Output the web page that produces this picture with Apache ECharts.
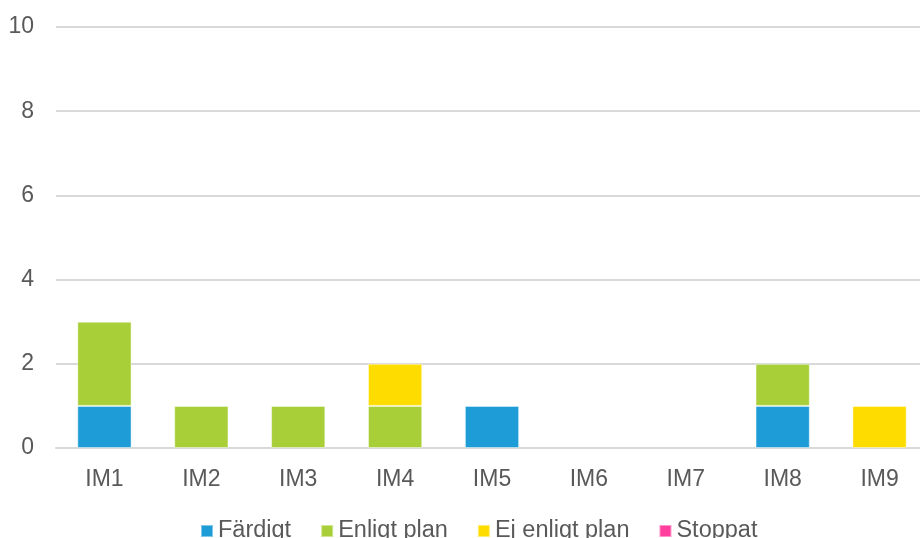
<!DOCTYPE html>
<html>
<head>
<meta charset="utf-8">
<script src="https://cdn.jsdelivr.net/npm/echarts@6/dist/echarts.min.js"></script>
<style>
  html, body { margin: 0; padding: 0; background: #fff; overflow: hidden; }
  #chart { width: 928px; height: 538px; }
</style>
</head>
<body>
<div id="chart"></div>
<script>
// Categories and stacked status counts
const categories = ['IM1', 'IM2', 'IM3', 'IM4', 'IM5', 'IM6', 'IM7', 'IM8', 'IM9'];
const fardigt = [1, 0, 0, 0, 1, 0, 0, 1, 0];
const enligtPlan = [2, 1, 1, 1, 0, 0, 0, 1, 0];
const ejEnligtPlan = [0, 0, 0, 1, 0, 0, 0, 0, 1];
const stoppat = [0, 0, 0, 0, 0, 0, 0, 0, 0];
const yTicks = [0, 2, 4, 6, 8, 10];

const seriesDefs = [
  { name: 'Färdigt', data: fardigt, color: '#1E9CD7' },
  { name: 'Enligt plan', data: enligtPlan, color: '#A8CF38' },
  { name: 'Ej enligt plan', data: ejEnligtPlan, color: '#FFDC00' },
  { name: 'Stoppat', data: stoppat, color: '#FF3E9E' }
];

const textColor = '#595959';
const fontFamily = '"Liberation Sans", Arial, sans-serif';

const chart = echarts.init(document.getElementById('chart'), null, { renderer: 'canvas' });
chart.setOption({
  animation: false,
  color: seriesDefs.map(s => s.color),
  grid: { left: 56, right: 0, top: 27, bottom: 90, containLabel: false },
  legend: {
    top: 519,
    left: 200,
    padding: 0,
    itemWidth: 12,
    itemHeight: 12,
    itemGap: 29,
    icon: 'rect',
    textStyle: { color: textColor, fontSize: 23.5, fontFamily: fontFamily, padding: [6, 0, 0, 0] },
    data: seriesDefs.map(s => s.name)
  },
  xAxis: {
    type: 'category',
    data: categories,
    axisLine: { show: true, lineStyle: { color: '#D9D9D9', width: 2 } },
    axisTick: { show: false },
    axisLabel: { color: textColor, fontSize: 23, fontFamily: fontFamily, margin: 20 }
  },
  yAxis: {
    type: 'value',
    min: yTicks[0],
    max: yTicks[yTicks.length - 1],
    interval: 2,
    axisLine: { show: false },
    axisTick: { show: false },
    splitLine: { lineStyle: { color: '#D9D9D9', width: 2 } },
    axisLabel: { color: textColor, fontSize: 23, fontFamily: fontFamily, margin: 22 }
  },
  series: seriesDefs.map(s => ({
    name: s.name,
    type: 'bar',
    stack: 'total',
    barWidth: '56%',
    itemStyle: { color: s.color, borderColor: 'rgba(255,255,255,0.45)', borderWidth: 1 },
    data: s.data.map(v => (v === 0 ? null : v))
  }))
});
</script>
</body>
</html>
